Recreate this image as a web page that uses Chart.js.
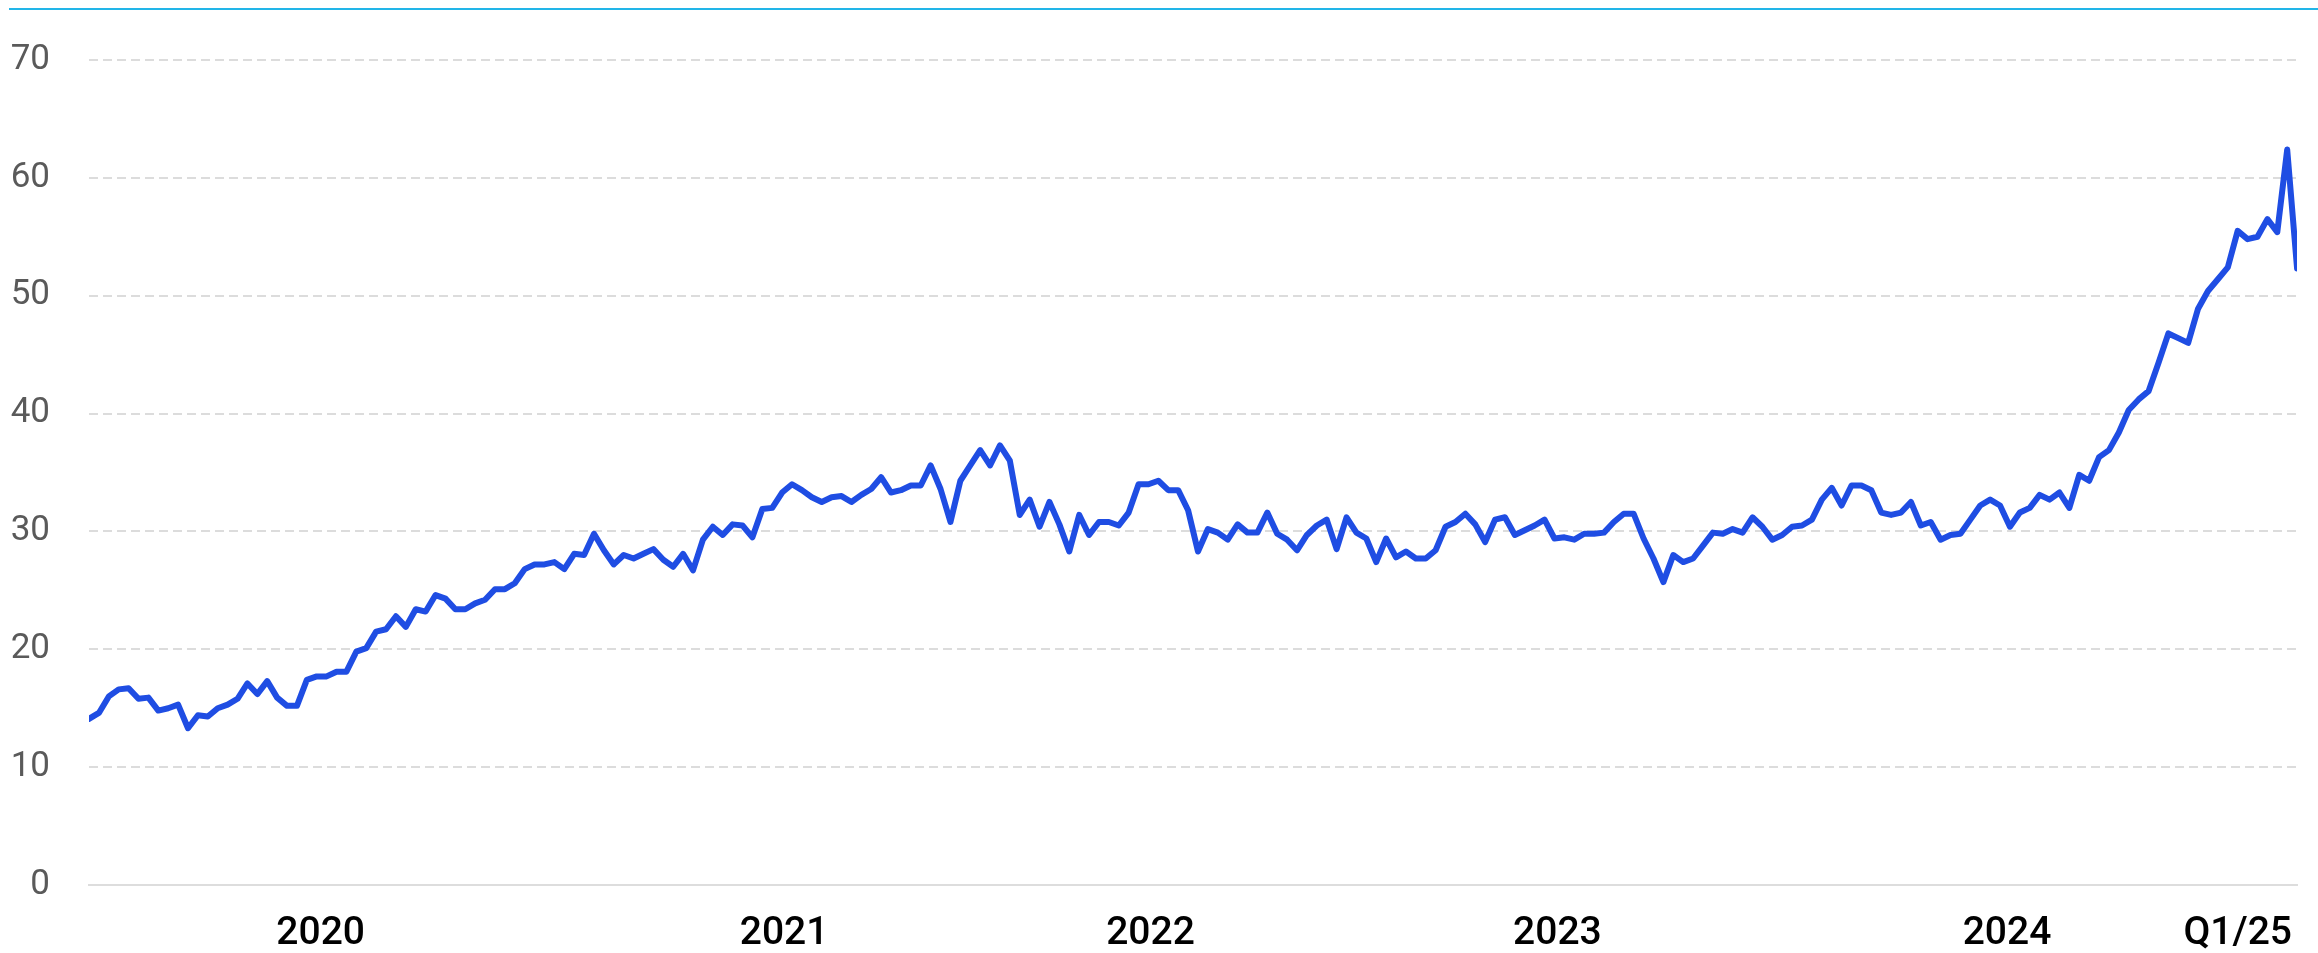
<!DOCTYPE html>
<html>
<head>
<meta charset="utf-8">
<script src="https://cdn.jsdelivr.net/npm/chart.js@4.4.1/dist/chart.umd.min.js"></script>
<style>
  html, body { margin: 0; padding: 0; background: #ffffff; }
  #wrap { position: relative; width: 2318px; height: 953px; }
  #topline { position: absolute; top: 8px; left: 9px; right: 0; height: 2px; background: #22b5e8; }
  canvas { display: block; }
</style>
</head>
<body>
<div id="wrap">
  <canvas id="c" width="2318" height="953"></canvas>
  <div id="topline"></div>
</div>
<script>
// Series values (evenly spaced observations, oldest first)
const values = [
  // mid 2019 - 2020
  14.1, 14.6, 16.0, 16.6, 16.7, 15.8, 15.9, 14.8, 15.0, 15.3, 13.3, 14.4, 14.3, 15.0, 15.3, 15.8, 17.1, 16.2, 17.3, 15.9,
  15.2, 15.2, 17.4, 17.7, 17.7, 18.1, 18.1, 19.8, 20.1, 21.5, 21.7, 22.8, 21.9, 23.4, 23.2, 24.6, 24.3, 23.4,
  // 2020 - 2021
  23.4, 23.9, 24.2, 25.1, 25.1, 25.6, 26.8, 27.2, 27.2, 27.4, 26.8, 28.1, 28.0, 29.8, 28.4, 27.2, 28.0, 27.7, 28.1, 28.5,
  27.6, 27.0, 28.1, 26.7, 29.3, 30.4, 29.7, 30.6, 30.5, 29.5, 31.9, 32.0, 33.3, 34.0, 33.5, 32.9, 32.5, 32.9, 33.0,
  // 2021 - 2022
  32.5, 33.1, 33.6, 34.6, 33.3, 33.5, 33.9, 33.9, 35.6, 33.6, 30.8, 34.3, 35.6, 36.9, 35.6, 37.3, 36.0, 31.4, 32.7, 30.4,
  32.5, 30.6, 28.3, 31.4, 29.7, 30.8, 30.8, 30.5, 31.6, 34.0, 34.0, 34.3, 33.5, 33.5, 31.8, 28.3, 30.2,
  // 2022 - 2023
  29.9, 29.3, 30.6, 29.9, 29.9, 31.6, 29.8, 29.3, 28.4, 29.7, 30.5, 31.0, 28.5, 31.2, 29.9, 29.4, 27.4, 29.4, 27.8, 28.3,
  27.7, 27.7, 28.4, 30.4, 30.8, 31.5, 30.6, 29.1, 31.0, 31.2, 29.7, 30.1, 30.5, 31.0, 29.4, 29.5, 29.3, 29.8,
  // 2023 - 2024
  29.8, 29.9, 30.8, 31.5, 31.5, 29.4, 27.7, 25.7, 28.0, 27.4, 27.7, 28.8, 29.9, 29.8, 30.2, 29.9, 31.2, 30.4, 29.3, 29.7,
  30.4, 30.5, 31.0, 32.7, 33.7, 32.2, 33.9, 33.9, 33.5, 31.6, 31.4, 31.6, 32.5, 30.5, 30.8, 29.3,
  // 2024 - Q1/25
  29.7, 29.8, 31.0, 32.2, 32.7, 32.2, 30.4, 31.6, 32.0, 33.1, 32.7, 33.3, 32.0, 34.8, 34.3, 36.3, 36.9, 38.4, 40.3, 41.2,
  41.9, 44.3, 46.8, 46.4, 46.0, 48.9, 50.4, 51.4, 52.4, 55.5, 54.8, 55.0, 56.5, 55.4, 62.4, 52.3
];

// Observation index of each x label
const tickLabels = ["2020", "2021", "2022", "2023", "2024", "Q1/25"];
const tickAt = [23.4, 70.2, 107.2, 148.3, 193.7, 217.0];

// Y axis
const yTicks = [0, 10, 20, 30, 40, 50, 60, 70];

const points = values.map((v, i) => ({ x: i, y: v }));

new Chart(document.getElementById('c'), {
  type: 'line',
  data: {
    datasets: [{
      data: points,
      borderColor: '#1f4de3',
      borderWidth: 6,
      pointRadius: 0,
      tension: 0,
      borderJoinStyle: 'round',
      borderCapStyle: 'round',
      fill: false
    }]
  },
  options: {
    responsive: false,
    animation: false,
    layout: { padding: { top: 55, left: 0, right: 1, bottom: 0 } },
    plugins: { legend: { display: false }, tooltip: { enabled: false } },
    scales: {
      x: {
        type: 'linear',
        min: 0,
        max: values.length - 1,
        grid: { display: false, drawTicks: false },
        border: { display: true, color: '#dddddd', width: 2 },
        afterBuildTicks: (scale) => { scale.ticks = tickAt.map(v => ({ value: v })); },
        afterFit: (scale) => { scale.height = 68; },
        ticks: {
          autoSkip: false,
          maxRotation: 0,
          padding: 26,
          color: '#000000',
          font: { family: 'Roboto, sans-serif', size: 39, weight: 500 },
          callback: (value, index) => tickLabels[index]
        }
      },
      y: {
        min: 0,
        max: 70,
        afterBuildTicks: (scale) => { scale.ticks = yTicks.map(v => ({ value: v })); },
        afterFit: (scale) => { scale.width = 89; },
        grid: { color: '#dcdcdc', lineWidth: 2, drawTicks: false },
        border: { display: false, dash: [9, 5] },
        ticks: {
          padding: 39,
          color: '#5a5a5a',
          font: { family: 'Roboto, sans-serif', size: 35 },
          callback: (v) => String(v)
        }
      }
    }
  }
});
</script>
</body>
</html>
